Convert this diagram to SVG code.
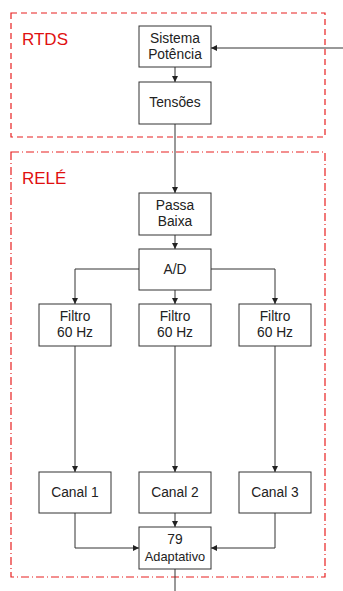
<svg xmlns="http://www.w3.org/2000/svg" width="343" height="591" viewBox="0 0 343 591">
<defs>
<marker id="ah" viewBox="0 0 6 6" refX="6" refY="3" markerWidth="6" markerHeight="6" markerUnits="userSpaceOnUse" orient="auto">
<path d="M0,0 L6,3 L0,6 z" fill="#222"/>
</marker>
<style>
.box{fill:#fff;stroke:#333;stroke-width:1}
.t{font-family:"Liberation Sans",Arial,sans-serif;font-size:13.8px;fill:#222;text-anchor:middle}
.ts{font-size:12.8px}
.lbl{font-family:"Liberation Sans",Arial,sans-serif;font-size:17px;fill:#e01010}
.c{fill:none;stroke:#333;stroke-width:1}
.grp{fill:none;stroke:#e82020;stroke-width:1.2}
</style>
</defs>
<rect width="343" height="591" fill="#fff"/>
<g id="rtds">
<rect class="grp" x="11" y="13" width="314" height="124" stroke-dasharray="6 4"/>
<text class="lbl" x="22" y="45">RTDS</text>
</g>
<g id="rele">
<rect class="grp" x="11" y="152" width="314" height="425" stroke-dasharray="8 3 1 3"/>
<text class="lbl" x="22" y="184">RELÉ</text>
</g>
<g id="connectors">
<path class="c" d="M343,48 H211" marker-end="url(#ah)"/>
<path class="c" d="M175,67 V82" marker-end="url(#ah)"/>
<path class="c" d="M175,124 V193" marker-end="url(#ah)"/>
<path class="c" d="M175,235 V249" marker-end="url(#ah)"/>
<path class="c" d="M139,269 H75 V304" marker-end="url(#ah)"/>
<path class="c" d="M211,269 H275 V304" marker-end="url(#ah)"/>
<path class="c" d="M175,290 V304" marker-end="url(#ah)"/>
<path class="c" d="M75,346 V472" marker-end="url(#ah)"/>
<path class="c" d="M175,346 V472" marker-end="url(#ah)"/>
<path class="c" d="M275,346 V472" marker-end="url(#ah)"/>
<path class="c" d="M175,513 V527" marker-end="url(#ah)"/>
<path class="c" d="M75,513 V548 H139" marker-end="url(#ah)"/>
<path class="c" d="M275,513 V548 H211" marker-end="url(#ah)"/>
<path class="c" d="M175,569 V591"/>
</g>
<g id="sistema">
<rect class="box" x="139" y="26" width="72" height="41"/>
<text class="t" x="175" y="43">Sistema</text>
<text class="t" x="175" y="59">Potência</text>
</g>
<g id="tensoes">
<rect class="box" x="139" y="82" width="72" height="42"/>
<text class="t" x="175" y="107">Tensões</text>
</g>
<g id="passa">
<rect class="box" x="139" y="193" width="72" height="42"/>
<text class="t" x="175" y="210">Passa</text>
<text class="t" x="175" y="226">Baixa</text>
</g>
<g id="ad">
<rect class="box" x="139" y="249" width="72" height="41"/>
<text class="t" x="175" y="274">A/D</text>
</g>
<g id="filtro1">
<rect class="box" x="39" y="304" width="72" height="42"/>
<text class="t" x="75" y="321">Filtro</text>
<text class="t" x="75" y="337">60 Hz</text>
</g>
<g id="filtro2">
<rect class="box" x="139" y="304" width="72" height="42"/>
<text class="t" x="175" y="321">Filtro</text>
<text class="t" x="175" y="337">60 Hz</text>
</g>
<g id="filtro3">
<rect class="box" x="239" y="304" width="72" height="42"/>
<text class="t" x="275" y="321">Filtro</text>
<text class="t" x="275" y="337">60 Hz</text>
</g>
<g id="canal1">
<rect class="box" x="39" y="472" width="72" height="41"/>
<text class="t" x="75" y="497">Canal 1</text>
</g>
<g id="canal2">
<rect class="box" x="139" y="472" width="72" height="41"/>
<text class="t" x="175" y="497">Canal 2</text>
</g>
<g id="canal3">
<rect class="box" x="239" y="472" width="72" height="41"/>
<text class="t" x="275" y="497">Canal 3</text>
</g>
<g id="adaptativo">
<rect class="box" x="139" y="527" width="72" height="42"/>
<text class="t" x="175" y="544">79</text>
<text class="t ts" x="175" y="561">Adaptativo</text>
</g>
</svg>
